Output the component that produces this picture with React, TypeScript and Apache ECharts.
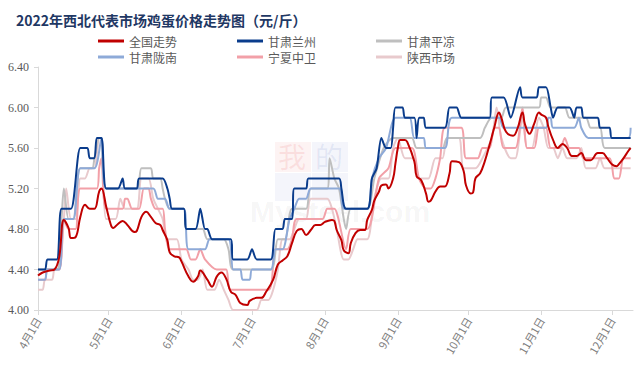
import React, { useEffect, useRef } from "react";
import * as echarts from "echarts";

// ---- data (date "MM-DD" in 2022, price 元/斤) ----
const seriesNames = ["全国走势", "甘肃兰州", "甘肃平凉", "甘肃陇南", "宁夏中卫", "陕西市场"];
const seriesColors = ["#c00000", "#0a3c8c", "#bfbfbf", "#8eaad8", "#f2a0a8", "#e8cacd"];
const yTicks = [4.0, 4.4, 4.8, 5.2, 5.6, 6.0, 6.4];

const national: [string, number][] = [
  ["04-01",4.34],["04-03",4.37],["04-06",4.39],["04-08",4.40],["04-10",4.52],["04-12",4.89],["04-14",4.81],["04-15",4.71],["04-17",4.72],["04-19",4.92],["04-21",5.04],["04-23",5.00],["04-25",5.00],["04-27",5.17],["04-28",5.20],["04-30",5.02],["05-02",4.84],["05-03",4.81],["05-05",4.85],["05-07",4.88],["05-09",4.84],["05-12",4.77],["05-13",4.78],["05-15",4.92],["05-17",4.97],["05-19",4.92],["05-21",4.86],["05-23",4.84],["05-24",4.79],["05-26",4.69],["05-27",4.57],["05-29",4.53],["05-31",4.52],["06-01",4.48],["06-04",4.33],["06-06",4.28],["06-08",4.33],["06-09",4.39],["06-12",4.30],["06-14",4.23],["06-16",4.33],["06-18",4.37],["06-20",4.31],["06-22",4.18],["06-24",4.15],["06-26",4.07],["06-29",4.05],["06-30",4.09],["07-03",4.12],["07-05",4.12],["07-07",4.18],["07-10",4.30],["07-12",4.45],["07-14",4.49],["07-16",4.53],["07-18",4.66],["07-20",4.78],["07-22",4.80],["07-24",4.74],["07-26",4.79],["07-28",4.84],["07-30",4.84],["08-01",4.87],["08-04",4.89],["08-05",4.88],["08-06",4.79],["08-08",4.69],["08-09",4.59],["08-11",4.56],["08-12",4.66],["08-14",4.76],["08-16",4.79],["08-18",4.79],["08-19",4.89],["08-21",4.99],["08-22",5.08],["08-24",5.17],["08-25",5.23],["08-27",5.24],["08-28",5.20],["08-30",5.30],["08-31",5.45],["09-01",5.60],["09-02",5.68],["09-04",5.68],["09-05",5.66],["09-08",5.47],["09-09",5.32],["09-11",5.28],["09-13",5.15],["09-14",5.07],["09-15",5.08],["09-17",5.17],["09-19",5.22],["09-21",5.22],["09-23",5.35],["09-24",5.47],["09-27",5.46],["09-29",5.37],["09-30",5.23],["10-02",5.15],["10-03",5.16],["10-04",5.30],["10-06",5.35],["10-08",5.47],["10-10",5.63],["10-12",5.80],["10-14",5.95],["10-15",5.90],["10-17",5.76],["10-20",5.72],["10-22",5.80],["10-24",5.95],["10-25",5.84],["10-27",5.74],["10-29",5.84],["10-31",5.95],["11-01",5.93],["11-03",5.90],["11-04",5.81],["11-06",5.68],["11-08",5.60],["11-10",5.64],["11-12",5.60],["11-14",5.52],["11-16",5.52],["11-18",5.55],["11-20",5.48],["11-22",5.48],["11-25",5.55],["11-27",5.55],["11-29",5.50],["12-01",5.44],["12-03",5.42],["12-04",5.44],["12-06",5.50],["12-08",5.57],["12-09",5.60]
];

const lanzhou: [string, number][] = [
  ["04-01",4.4],["04-04",4.4],["04-05",4.5],["04-09",4.5],["04-11",5.0],["04-15",5.0],["04-19",5.6],["04-22",5.6],["04-23",5.5],["04-25",5.5],["04-26",5.7],["04-28",5.7],["04-30",5.2],["05-05",5.2],["05-07",5.3],["05-08",5.2],["05-13",5.2],["05-14",5.3],["05-24",5.3],["05-26",5.2],["05-27",5.1],["05-28",5.0],["06-02",5.0],["06-03",4.8],["06-07",4.8],["06-09",5.0],["06-11",4.8],["06-12",4.8],["06-14",4.7],["06-22",4.7],["06-23",4.5],["06-29",4.5],["07-01",4.6],["07-03",4.5],["07-09",4.5],["07-11",4.8],["07-14",4.8],["07-15",4.9],["07-18",4.9],["07-19",5.2],["07-24",5.2],["07-25",5.3],["08-07",5.3],["08-08",5.2],["08-10",5.0],["08-19",5.0],["08-21",5.3],["08-23",5.4],["08-25",5.7],["08-27",5.6],["08-29",5.6],["08-30",5.8],["08-31",6.0],["09-03",6.0],["09-04",5.9],["09-08",5.9],["09-09",5.7],["09-10",5.9],["09-12",5.9],["09-13",5.8],["09-21",5.8],["09-23",6.0],["09-26",6.0],["09-28",5.9],["10-10",5.9],["10-11",6.1],["10-16",6.1],["10-19",5.9],["10-23",6.2],["10-24",6.1],["10-30",6.1],["10-31",6.2],["11-03",6.2],["11-05",6.0],["11-06",5.9],["11-08",6.0],["11-13",6.0],["11-15",5.9],["11-16",6.0],["11-18",6.0],["11-19",5.9],["11-25",5.9],["11-26",5.8],["11-30",5.8],["12-01",5.7],["12-09",5.7]
];

const pingliang: [string, number][] = [
  ["04-01",4.4],["04-09",4.4],["04-11",4.9],["04-12",5.2],["04-14",4.9],["04-16",4.9],["04-19",5.4],["04-24",5.4],["04-25",5.5],["04-27",5.7],["04-28",5.7],["04-30",5.2],["05-13",5.2],["05-15",5.4],["05-19",5.4],["05-20",5.3],["05-23",5.3],["05-24",5.2],["05-25",5.1],["05-27",5.0],["06-02",5.0],["06-03",4.8],["06-10",4.8],["06-12",4.7],["06-19",4.7],["06-21",4.6],["06-23",4.4],["07-09",4.4],["07-12",4.7],["07-15",4.7],["07-18",5.0],["07-24",5.0],["07-26",5.2],["08-02",5.2],["08-03",5.5],["08-05",5.3],["08-07",5.2],["08-09",4.9],["08-10",4.8],["08-12",5.0],["08-19",5.0],["08-22",5.3],["08-26",5.6],["08-30",5.7],["09-07",5.7],["09-09",5.6],["09-20",5.6],["09-22",5.7],["10-06",5.7],["10-08",5.8],["10-11",5.9],["10-15",5.9],["10-17",6.0],["10-31",6.0],["11-01",6.1],["11-03",6.1],["11-05",6.0],["11-11",6.0],["11-13",5.9],["11-20",5.9],["11-22",5.8],["11-26",5.8],["11-28",5.6],["12-09",5.6]
];

const longnan: [string, number][] = [
  ["04-01",4.3],["04-04",4.3],["04-05",4.4],["04-10",4.4],["04-12",4.9],["04-16",4.9],["04-19",5.4],["04-25",5.4],["04-28",5.7],["04-30",5.2],["05-20",5.2],["05-22",5.1],["05-25",5.1],["05-27",5.0],["06-02",5.0],["06-04",4.6],["06-11",4.6],["06-13",4.7],["06-21",4.7],["06-23",4.4],["06-26",4.4],["06-27",4.3],["06-30",4.3],["07-01",4.4],["07-09",4.4],["07-11",4.6],["07-14",4.6],["07-17",4.9],["07-19",5.0],["07-21",5.1],["07-24",5.1],["07-26",5.2],["08-07",5.2],["08-09",5.0],["08-19",5.0],["08-21",5.3],["08-24",5.5],["08-27",5.6],["08-31",5.9],["09-06",5.9],["09-08",5.7],["09-12",5.7],["09-13",5.6],["09-21",5.6],["09-24",5.9],["10-14",5.9],["10-16",5.8],["11-03",5.8],["11-04",5.9],["11-05",5.9],["11-06",5.8],["11-15",5.8],["11-17",5.9],["11-18",5.8],["11-21",5.7],["12-08",5.7],["12-09",5.8]
];

const zhongwei: [string, number][] = [
  ["04-01",4.3],["04-04",4.3],["04-05",4.4],["04-10",4.4],["04-12",4.9],["04-14",4.8],["04-17",4.8],["04-19",5.2],["04-26",5.2],["04-27",5.4],["04-28",5.5],["04-30",5.0],["05-07",5.0],["05-08",5.1],["05-09",5.1],["05-11",5.0],["05-14",5.0],["05-16",5.2],["05-18",5.2],["05-19",5.1],["05-21",5.0],["05-24",5.0],["05-25",4.8],["05-27",4.6],["06-03",4.6],["06-05",4.5],["06-07",4.5],["06-09",4.6],["06-11",4.5],["06-16",4.4],["06-20",4.4],["06-22",4.2],["07-08",4.2],["07-11",4.6],["07-16",4.6],["07-18",4.7],["07-20",4.9],["07-31",4.9],["08-02",5.0],["08-05",5.0],["08-10",4.6],["08-12",4.8],["08-19",4.8],["08-24",5.3],["08-28",5.4],["08-31",5.6],["09-07",5.6],["09-10",5.3],["09-13",5.2],["09-15",5.2],["09-17",5.3],["09-19",5.5],["09-21",5.8],["09-28",5.8],["09-30",5.5],["10-05",5.5],["10-07",5.6],["10-10",5.6],["10-12",5.8],["10-14",5.8],["10-16",5.6],["10-21",5.6],["10-24",6.0],["10-26",5.6],["10-29",5.6],["10-31",5.8],["11-03",5.8],["11-05",5.6],["11-09",5.6],["11-11",5.7],["11-13",5.6],["11-17",5.6],["11-19",5.5],["11-30",5.5],["12-02",5.3],["12-04",5.3],["12-06",5.5],["12-09",5.5]
];

const shaanxi: [string, number][] = [
  ["04-01",4.2],["04-03",4.2],["04-04",4.3],["04-07",4.3],["04-08",4.4],["04-10",4.4],["04-12",4.9],["04-13",5.2],["04-15",4.9],["04-17",4.9],["04-19",5.3],["04-21",5.3],["04-23",5.4],["04-25",5.4],["04-27",5.7],["04-28",5.7],["04-30",4.9],["05-04",4.9],["05-06",5.1],["05-08",5.0],["05-13",5.0],["05-15",5.3],["05-18",5.3],["05-20",5.1],["05-22",5.0],["05-24",4.9],["05-26",4.7],["05-30",4.7],["06-01",4.5],["06-04",4.4],["06-06",4.3],["06-08",4.3],["06-10",4.4],["06-12",4.2],["06-15",4.2],["06-17",4.3],["06-19",4.2],["06-21",4.1],["06-23",4.0],["07-03",4.0],["07-05",4.1],["07-08",4.1],["07-10",4.2],["07-12",4.4],["07-14",4.7],["07-17",4.7],["07-19",4.8],["07-21",4.9],["07-24",4.9],["07-26",5.1],["08-02",5.1],["08-04",5.0],["08-06",4.8],["08-09",4.5],["08-11",4.5],["08-13",4.6],["08-15",4.7],["08-19",4.7],["08-22",5.1],["08-25",5.3],["08-28",5.3],["08-30",5.6],["09-01",5.7],["09-04",5.5],["09-08",5.5],["09-10",5.3],["09-14",5.3],["09-17",5.5],["09-20",5.5],["09-22",5.7],["09-27",5.7],["09-29",5.4],["10-04",5.4],["10-07",5.5],["10-11",5.7],["10-13",6.0],["10-15",5.7],["10-19",5.5],["10-21",5.5],["10-24",5.9],["10-26",5.6],["10-28",5.6],["10-31",5.9],["11-02",5.8],["11-04",5.6],["11-06",5.6],["11-08",5.5],["11-10",5.6],["11-12",5.5],["11-16",5.5],["11-18",5.6],["11-20",5.4],["11-24",5.4],["11-26",5.5],["11-28",5.4],["12-09",5.4]
];

const allSeries = [national, lanzhou, pingliang, longnan, zhongwei, shaanxi];
const seriesZ = [9, 8, 5, 6, 4, 3];

// categories: every day 2022-04-01 .. 2022-12-10
function buildCategories(): string[] {
  const out: string[] = [];
  const d = new Date(2022, 3, 1);
  const end = new Date(2022, 11, 10);
  while (d <= end) {
    out.push(`${d.getMonth() + 1}月${d.getDate()}日`);
    d.setDate(d.getDate() + 1);
  }
  return out;
}
const categories = buildCategories();
const toCat = (md: string) => {
  const [m, dd] = md.split("-").map(Number);
  return `${m}月${dd}日`;
};

const isMonthStart = (_: number, v: string) => /^\d+月1日$/.test(v);

export default function App() {
  const ref = useRef<HTMLDivElement>(null);
  useEffect(() => {
    if (!ref.current) return;
    const chart = echarts.init(ref.current, undefined, { renderer: "svg" });
    const legendCommon = {
      left: 93,
      itemWidth: 26,
      itemHeight: 3,
      itemGap: 60,
      icon: "rect",
      textStyle: { fontSize: 12, color: "#595959", fontFamily: "Noto Sans CJK SC" },
    };
    chart.setOption({
      animation: false,
      backgroundColor: "#ffffff",
      title: {
        text: "2022年西北代表市场鸡蛋价格走势图（元/斤）",
        left: 11,
        top: 8,
        textStyle: { fontSize: 14, fontWeight: "bold", color: "#1f3864", fontFamily: "Noto Sans CJK SC" },
      },
      legend: [
        { ...legendCommon, top: 30, data: seriesNames.slice(0, 3) },
        { ...legendCommon, top: 46, data: seriesNames.slice(3, 6) },
      ],
      graphic: [
        { type: "rect", shape: { x: 275, y: 142, width: 36, height: 30 }, style: { fill: "rgba(230,80,80,0.07)" }, z: 0 },
        { type: "rect", shape: { x: 312, y: 142, width: 36, height: 30 }, style: { fill: "rgba(60,90,180,0.06)" }, z: 0 },
        { type: "rect", shape: { x: 275, y: 173, width: 36, height: 28 }, style: { fill: "rgba(60,90,180,0.06)" }, z: 0 },
        { type: "rect", shape: { x: 312, y: 173, width: 36, height: 28 }, style: { fill: "rgba(60,90,180,0.06)" }, z: 0 },
        { type: "text", left: 278, top: 142, style: { text: "我", fontSize: 28, fill: "rgba(230,80,80,0.12)", fontFamily: "Noto Sans CJK SC" }, z: 0 },
        { type: "text", left: 315, top: 142, style: { text: "的", fontSize: 28, fill: "rgba(60,90,180,0.10)", fontFamily: "Noto Sans CJK SC" }, z: 0 },
        { type: "text", left: 250, top: 196, style: { text: "Mysteel.com", fontSize: 30, fontWeight: "bold", fill: "rgba(0,0,0,0.05)", fontFamily: "Arial" }, z: 0 },
      ],
      grid: { left: 38, right: 9, top: 67, bottom: 67, containLabel: false },
      xAxis: {
        type: "category",
        data: categories,
        boundaryGap: false,
        axisLine: { lineStyle: { color: "#d9d9d9" } },
        axisTick: { interval: isMonthStart, length: 5, lineStyle: { color: "#d9d9d9" } },
        axisLabel: {
          interval: isMonthStart,
          rotate: 60,
          fontSize: 11,
          color: "#7f7f7f",
          fontFamily: "Noto Sans CJK SC",
          margin: 8,
        },
        splitLine: { show: false },
      },
      yAxis: {
        type: "value",
        min: yTicks[0],
        max: yTicks[yTicks.length - 1],
        interval: 0.4,
        axisLine: { show: true, lineStyle: { color: "#d9d9d9" } },
        axisTick: { show: true, length: 4, lineStyle: { color: "#d9d9d9" } },
        axisLabel: {
          formatter: (v: number) => v.toFixed(2),
          fontSize: 12,
          color: "#595959",
          fontFamily: "Liberation Serif",
          margin: 9,
        },
        splitLine: { show: false },
      },
      series: seriesNames.map((name, i) => ({
        name,
        type: "line",
        data: allSeries[i].map(([md, v]) => [toCat(md), v]),
        showSymbol: false,
        symbol: "none",
        smooth: i === 0 ? 0.4 : 0.25,
        z: seriesZ[i],
        lineStyle: { width: 2, color: seriesColors[i] },
        itemStyle: { color: seriesColors[i] },
      })),
    });
    return () => chart.dispose();
  }, []);
  return <div ref={ref} style={{ position: "fixed", left: 0, top: 0, width: 642, height: 377 }} />;
}
